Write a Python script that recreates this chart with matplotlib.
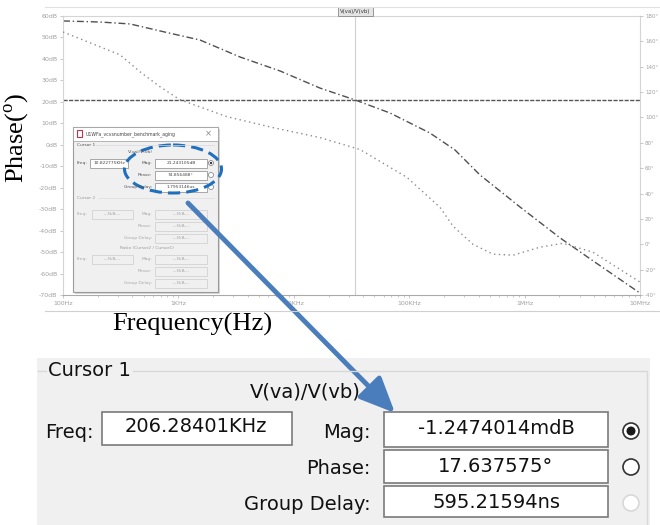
import matplotlib
matplotlib.use('Agg')
import matplotlib.pyplot as plt
from matplotlib.patches import Rectangle, Ellipse, Circle, FancyArrowPatch
from matplotlib.ticker import NullFormatter

plt.rcParams['mathtext.fontset'] = 'custom'
plt.rcParams['mathtext.rm'] = 'Liberation Serif'

# traces
mag_freq = [100, 209, 381, 766, 1540, 3420, 7590, 16900, 33900, 68200,
            151000, 249000, 411000, 913000, 2030000, 3920000, 10000000]
mag_db = [57.7, 57.2, 56.3, 52.5, 48.8, 40.9, 34.4, 26.4, 20.9, 14.8,
          5.5, -2.4, -14.1, -29.0, -43.4, -54.1, -69.1]

phase_freq = [100, 312, 465, 693, 1030, 2640, 6600, 16900, 37500, 95800,
              185000, 240000, 357000, 532000, 793000, 1360000, 2150000,
              3920000, 10000000]
phase_deg = [167.4, 149.4, 136.0, 124.2, 114.0, 100.6, 92.0, 84.1, 74.7, 52.7,
             29.1, 14.2, 0.0, -7.8, -8.6, -2.3, 0.8, -6.3, -29.8]

cursor_freq = 33900
cursor_db = 20.9

db_ticks = list(range(60, -71, -10))
db_labels = ['%ddB' % v for v in db_ticks]
phase_ticks = list(range(180, -41, -20))
phase_labels = ['%d°' % v for v in phase_ticks]
freq_ticks = [1e2, 1e3, 1e4, 1e5, 1e6, 1e7]
freq_labels = ['100Hz', '1KHz', '10KHz', '100KHz', '1MHz', '10MHz']

# cursor readout (enlarged dialog)
readout_freq = '206.28401KHz'
readout_names = ['Mag:', 'Phase:', 'Group Delay:']
readout_values = ['-1.2474014mdB', '17.637575°', '595.21594ns']

# small dialog inside the screenshot
small_freq = '10.822775KHz'
small_values = ['21.243105dB', '74.856488°', '1.7953146us']

W, H = 660, 525
fig = plt.figure(figsize=(6.6, 5.25), dpi=100)


def px(x0, y0, x1, y1):
    return [x0 / W, 1 - y1 / H, (x1 - x0) / W, (y1 - y0) / H]


ax = fig.add_axes(px(63, 16, 640, 295))
ax.set_xscale('log')
ax.set_xlim(100, 1e7)
ax.set_ylim(-70, 60)
ax.plot(mag_freq, mag_db, color='#505050', lw=1.0, ls=(0, (5, 2, 1, 2)))
ax.axvline(cursor_freq, color='#d0d0d0', lw=0.8)
ax.axhline(cursor_db, color='#555555', lw=1.0, ls=(0, (3, 1)))
ax.set_yticks(db_ticks)
ax.set_yticklabels(db_labels)
ax.set_xticks(freq_ticks)
ax.set_xticklabels(freq_labels)
ax.xaxis.set_minor_formatter(NullFormatter())
ax.tick_params(labelsize=4.5, colors='#b0b0b0', labelcolor='#a0a0a0',
               length=2, width=0.5, pad=2)
ax.tick_params(which='minor', length=1.5, colors='#c0c0c0')
for s in ax.spines.values():
    s.set_color('#d5d5d5')
    s.set_linewidth(0.8)
ax.spines['bottom'].set_color('#aaaaaa')

ax2 = ax.twinx()
ax2.set_ylim(-40, 180)
ax2.plot(phase_freq, phase_deg, color='#8a8a8a', lw=1.0, ls=(0, (1, 2.5)))
ax2.set_yticks(phase_ticks)
ax2.set_yticklabels(phase_labels)
ax2.tick_params(labelsize=4.0, colors='#b0b0b0', labelcolor='#a0a0a0',
                length=2, width=0.5, pad=1.5)
for s in ax2.spines.values():
    s.set_visible(False)
ax2.patch.set_visible(False)

# overlay in pixel coordinates for the screenshot chrome
ov = fig.add_axes([0, 0, 1, 1])
ov.set_xlim(0, W)
ov.set_ylim(H, 0)
ov.axis('off')

ov.plot([45, 660], [7, 7], color='#e0e0e0', lw=0.8)
ov.plot([45, 660], [311, 311], color='#d0d0d0', lw=0.8)
ov.add_patch(Rectangle((338, 7), 35, 9, fc='#e4e4e4', ec='#888888', lw=0.6))
ov.text(355.5, 11.5, 'V(va)/V(vb)', fontsize=3.8, ha='center', va='center',
        color='#333333')

fig.text(17 / W, 1 - 138 / H, r'Phase($^{\rm o}$)', rotation=90,
         family='Liberation Serif', fontsize=19, ha='center', va='center')
fig.text(192 / W, 1 - 324 / H, 'Frequency(Hz)', family='Liberation Serif',
         fontsize=19, ha='center', va='center')

# small cursor dialog pasted in the plot
ov.add_patch(Rectangle((75, 129), 145, 165, fc='#d8d8d8', ec='none'))
ov.add_patch(Rectangle((73, 127), 145, 165, fc='#f0f0f0', ec='#9a9a9a', lw=0.8))
ov.add_patch(Rectangle((73, 127), 145, 14, fc='white', ec='#9a9a9a', lw=0.5))
ov.add_patch(Rectangle((77, 130), 5, 7, fc='white', ec='#c03050', lw=0.8))
ov.text(86, 134, 'U1WFa_vcvsnumber_benchmark_aging', fontsize=3.3,
        va='center', color='#444444')
ov.text(208, 134, '×', fontsize=6, ha='center', va='center', color='#888888')
small = dict(fontsize=3.2, va='center')
ov.text(77, 145, 'Cursor 1', color='#555555', **small)
ov.plot([96, 214], [145, 145], color='#d8d8d8', lw=0.5)
ov.text(140, 152, 'V(va)/V(vb)', ha='center', color='#555555', **small)
ov.text(77, 163, 'Freq:', color='#555555', **small)
ov.add_patch(Rectangle((90, 159), 38, 9, fc='white', ec='#888888', lw=0.5))
ov.text(109, 163.5, small_freq, ha='center', color='#444444', **small)
for i, (nm, val) in enumerate(zip(readout_names, small_values)):
    y = 163 + 12 * i
    ov.text(152, y, nm, ha='right', color='#555555', **small)
    ov.add_patch(Rectangle((155, y - 4), 52, 8.5, fc='white', ec='#888888', lw=0.5))
    ov.text(181, y + 0.3, val, ha='center', color='#444444', **small)
    ov.add_patch(Circle((211, y), 2.5, fc='white', ec='#777777', lw=0.5))
ov.add_patch(Circle((211, 163), 1.2, fc='#333333', ec='none'))
ov.text(77, 198, 'Cursor 2', color='#999999', **small)
ov.plot([98, 214], [198, 198], color='#dddddd', lw=0.5)
for y0, title in [(214, None), (254, 'Ratio (Cursor2 / Cursor1)')]:
    if title:
        ov.text(147, y0 - 6, title, ha='center', color='#999999', **small)
    ov.text(77, y0 + (5 if title else 0), 'Freq:', color='#aaaaaa', **small)
for y0 in [214, 259]:
    ov.add_patch(Rectangle((92, y0 - 4.5), 41, 9, fc='#f0f0f0', ec='#cccccc', lw=0.5))
    ov.text(112, y0, '---N/A---', ha='center', color='#aaaaaa', **small)
    for i, nm in enumerate(readout_names):
        y = y0 + 12 * i
        ov.text(152, y, nm, ha='right', color='#aaaaaa', **small)
        ov.add_patch(Rectangle((155, y - 4.5), 52, 9, fc='#f0f0f0', ec='#cccccc', lw=0.5))
        ov.text(181, y, '---N/A---', ha='center', color='#aaaaaa', **small)

ov.add_patch(Ellipse((173, 169), 97, 48, fill=False, ec='#1f6fbf', lw=2.2,
                     ls=(0, (4, 2))))

# enlarged readout panel
big = dict(fontsize=14, va='center', color='#111111')
ov.add_patch(Rectangle((37, 358), 613, 167, fc='#f0f0f0', ec='none'))
ov.plot([38, 46], [371, 371], color='#d8d8d8', lw=1)
ov.plot([133, 647, 647], [371, 371, 525], color='#d8d8d8', lw=1)
ov.text(48, 371, 'Cursor 1', **big)
ov.text(305, 392, 'V(va)/V(vb)', ha='center', **big)
ov.text(45, 432, 'Freq:', **big)
ov.add_patch(Rectangle((102, 412), 190, 33, fc='white', ec='#7a7a7a', lw=1.2))
ov.text(196, 427, readout_freq, ha='center', **big)
box_top = [412, 450, 486]
box_h = [35, 33, 31]
label_y = [432, 468, 505]
for i, (nm, val) in enumerate(zip(readout_names, readout_values)):
    ov.text(371, label_y[i], nm, ha='right', **big)
    ov.add_patch(Rectangle((384, box_top[i]), 224, box_h[i], fc='white',
                           ec='#7a7a7a', lw=1.2))
    ov.text(496, box_top[i] + 17, val, ha='center', **big)
ov.add_patch(Circle((631, 431), 8, fc='white', ec='#333333', lw=1.2))
ov.add_patch(Circle((631, 431), 4.5, fc='#1a1a1a', ec='none'))
ov.add_patch(Circle((631, 467), 8, fc='white', ec='#333333', lw=1.2))
ov.add_patch(Circle((631, 503), 8, fc='white', ec='#d8d8d8', lw=1.2))

ov.add_patch(FancyArrowPatch((188, 203), (395, 413),
                             arrowstyle='-|>,head_length=1.8,head_width=0.8',
                             mutation_scale=12, lw=3.5, color='#4a7dbb',
                             shrinkA=0, shrinkB=0))

fig.savefig('out.png', dpi=100, facecolor='white')
